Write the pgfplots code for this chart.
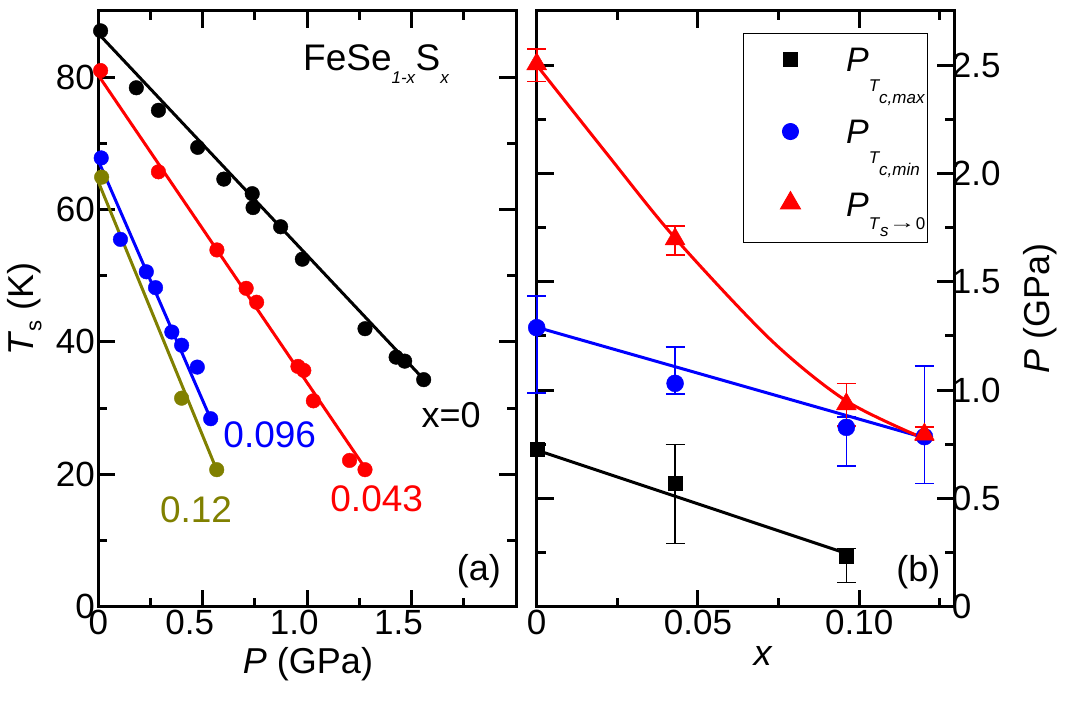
\documentclass[border=0pt]{standalone}
\usepackage{fontspec}
\setmainfont{Liberation Sans}
\usepackage{pgfplots}
\pgfplotsset{compat=1.18}
\definecolor{olivec}{RGB}{128,128,0}
\definecolor{bluec}{RGB}{0,0,255}
\definecolor{redc}{RGB}{255,0,0}
\newcommand{\fs}[1]{\fontsize{#1}{#1}\selectfont}
\pgfplotsset{legimg/.style={legend image code/.code={\path[draw=none,fill=none] (0pt,0pt) -- (103pt,0pt); \draw[##1] plot coordinates {(47.3pt,#1)};}}}

\begin{document}
\begin{tikzpicture}
\path[use as bounding box] (-98.3pt,-104.3pt) rectangle (966.7pt,606.7pt);
\pgfplotsset{
  panel/.style={
    scale only axis, width=417.7pt, height=595.7pt,
    anchor=south west, clip=false,
    axis line style={line width=3pt},
    every tick/.style={line width=3pt, black},
    major tick length=17pt, minor tick length=9pt,
    tick align=inside,
    tick label style={font=\fs{35}},
    label style={font=\fs{36}},
  }
}
% ---------------- panel (a)
\begin{axis}[panel, at={(0pt,0pt)},
  xmin=0, xmax=2, ymin=0, ymax=90,
  xtick={0,0.5,1,1.5,2},
  xticklabels={0,\kern-26pt\relax 0.5,\kern-26pt\relax 1.0,\kern-26pt\relax 1.5,{}},
  minor xtick={0.25,0.75,1.25,1.75},
  ytick={0,20,40,60,80}, yticklabels={0,20,40,60,80},
  minor ytick={10,30,50,70},
  xlabel={\textit{P} (GPa)},
  ylabel={\textit{T}\raisebox{-8pt}{\fs{22}s} (K)},
  xlabel style={at={(axis description cs:0.502,-0.1118)}, anchor=base},
  ylabel style={at={(axis description cs:-0.1556,0.5)}, anchor=base},
]
% x = 0
\addplot[black, line width=3pt] coordinates {(0,86.6) (1.56,34.3)};
\addplot[only marks, mark=*, mark size=7.3pt, black] coordinates {
(0.011,87.0) (0.182,78.4) (0.288,75.0) (0.476,69.4) (0.601,64.6) (0.737,62.4)
(0.741,60.3) (0.873,57.4) (0.977,52.5) (1.277,42.0) (1.426,37.7) (1.467,37.1) (1.558,34.3)};
% x = 0.043
\addplot[redc, line width=3pt] coordinates {(0,80.3) (1.27,21.3)};
\addplot[only marks, mark=*, mark size=7.3pt, redc] coordinates {
(0.011,81.0) (0.288,65.7) (0.568,53.9) (0.708,48.1) (0.758,46.0) (0.956,36.3)
(0.984,35.7) (1.030,31.1) (1.203,22.1) (1.277,20.7)};
% x = 0.096
\addplot[bluec, line width=3pt] coordinates {(0,67.4) (0.535,28.6)};
\addplot[only marks, mark=*, mark size=7.3pt, bluec] coordinates {
(0.014,67.8) (0.106,55.5) (0.230,50.6) (0.274,48.2) (0.352,41.5) (0.399,39.5) (0.474,36.2) (0.538,28.4)};
% x = 0.12
\addplot[olivec, line width=3pt] coordinates {(0,64.2) (0.560,21.2)};
\addplot[only marks, mark=*, mark size=7.3pt, olivec] coordinates {
(0.016,64.9) (0.399,31.5) (0.567,20.7)};

\node[anchor=base west, inner sep=0pt, font=\fs{37}] at (axis cs:0.98,81.0)
  {FeSe\raisebox{-13.3pt}{\fs{17}\textit{1-x}}S\raisebox{-13.3pt}{\fs{17}\textit{x}}};
\node[inner sep=0pt, font=\fs{36}] at (axis cs:1.689,28.9) {x=0};
\node[inner sep=0pt, bluec, font=\fs{37}] at (axis cs:0.821,26.0) {0.096};
\node[inner sep=0pt, redc, font=\fs{37}] at (axis cs:1.333,16.3) {0.043};
\node[inner sep=0pt, olivec, font=\fs{37}] at (axis cs:0.468,14.6) {0.12};
\node[inner sep=0pt, font=\fs{36}] at (axis cs:1.822,5.3) {(a)};
\end{axis}

% ---------------- panel (b)
\begin{axis}[panel, at={(438.4pt,0pt)},
  xmin=0, xmax=0.1295, ymin=0, ymax=2.75,
  xtick={0,0.05,0.1}, xticklabels={0,0.05,0.10},
  minor xtick={0.025,0.075,0.125},
  ytick={0,0.5,1,1.5,2,2.5}, yticklabels={0,0.5,1.0,1.5,2.0,2.5},
  minor ytick={0.25,0.75,1.25,1.75,2.25},
  yticklabel pos=right,
  yticklabel style={xshift=-6pt},
  xlabel={\textit{x}},
  ylabel={\textit{P} (GPa)},
  xlabel style={at={(axis description cs:0.542,-0.0979)}, anchor=base},
  ylabel style={at={(axis description cs:1.2277,0.5)}, anchor=base},
  legend style={at={(axis description cs:0.936,0.9626)}, anchor=north east,
    draw=black, line width=1pt, fill=white, inner sep=0pt, row sep=0pt,
    cells={anchor=base west}, nodes={inner sep=0pt, text depth=}, font=\fs{34}},
]
\addlegendimage{only marks, mark=square*, mark size=7pt, black, legimg=12.7pt}
\addlegendentry{\rule[-26pt]{0pt}{64pt}\makebox[81pt][l]{\textit{P}\raisebox{-20pt}{\fs{17}\textit{T}\kern-1pt\raisebox{-12pt}{\textit{c,max}}}}}
\addlegendimage{only marks, mark=*, mark size=8pt, bluec, legimg=12.4pt}
\addlegendentry{\rule[-26pt]{0pt}{64pt}\makebox[81pt][l]{\textit{P}\raisebox{-20pt}{\fs{17}\textit{T}\kern-1pt\raisebox{-12pt}{\textit{c,min}}}}}
\addlegendimage{only marks, mark=triangle*, mark size=11.5pt, redc, legimg=13pt}
\addlegendentry{\rule[-26pt]{0pt}{64pt}\makebox[81pt][l]{\textit{P}\raisebox{-13pt}{\fs{17}\textit{T}\raisebox{-7.7pt}{\textit{s}}\raisebox{0.5pt}{\scalebox{1.6}[1]{→}}0}}}

% black squares
\addplot[black, line width=3pt] coordinates {(0,0.723) (0.096,0.246)};
\addplot[only marks, mark=square*, mark size=7pt, black] coordinates {(0,0.726)};
\addplot[only marks, mark=square*, mark size=7pt, black,
  error bars/.cd, y dir=both, y explicit,
  error bar style={line width=1.7pt, black},
  error mark options={rotate=90, line width=1.7pt, mark size=9.5pt, black}] coordinates {
  (0.0429,0.572) += (0,0.177) -= (0,0.280)
  (0.096,0.234) += (0,0.035) -= (0,0.122)};
% blue circles
\addplot[bluec, line width=3pt] coordinates {(0,1.29) (0.1202,0.78)};
\addplot[only marks, mark=*, mark size=8.5pt, bluec,
  error bars/.cd, y dir=both, y explicit,
  error bar style={line width=1.7pt, bluec},
  error mark options={rotate=90, line width=1.7pt, mark size=9.5pt, bluec}] coordinates {
  (0,1.288) += (0,0.146) -= (0,0.303)
  (0.0429,1.031) += (0,0.169) -= (0,0.049)
  (0.096,0.828) += (0,0.049) -= (0,0.179)
  (0.1202,0.785) += (0,0.326) -= (0,0.216)};
% red triangles
\addplot[redc, line width=3pt, smooth] coordinates {
  (0,2.50) (0.0218,2.09) (0.043,1.70) (0.0727,1.23) (0.096,0.95) (0.1195,0.78)};
\addplot[only marks, mark=triangle*, mark size=11.5pt, redc,
  error bars/.cd, y dir=both, y explicit,
  error bar style={line width=1.7pt, redc},
  error mark options={rotate=90, line width=1.7pt, mark size=9.5pt, redc}] coordinates {
  (0,2.505) += (0,0.068) -= (0,0.081)
  (0.0429,1.697) += (0,0.062) -= (0,0.072)
  (0.096,0.935) += (0,0.096) -= (0,0.101)
  (0.1202,0.795) += (0,0.033) -= (0,0.025)};

\node[inner sep=0pt, font=\fs{36}] at (axis cs:0.1183,0.161) {(b)};
\end{axis}
\end{tikzpicture}
\end{document}
